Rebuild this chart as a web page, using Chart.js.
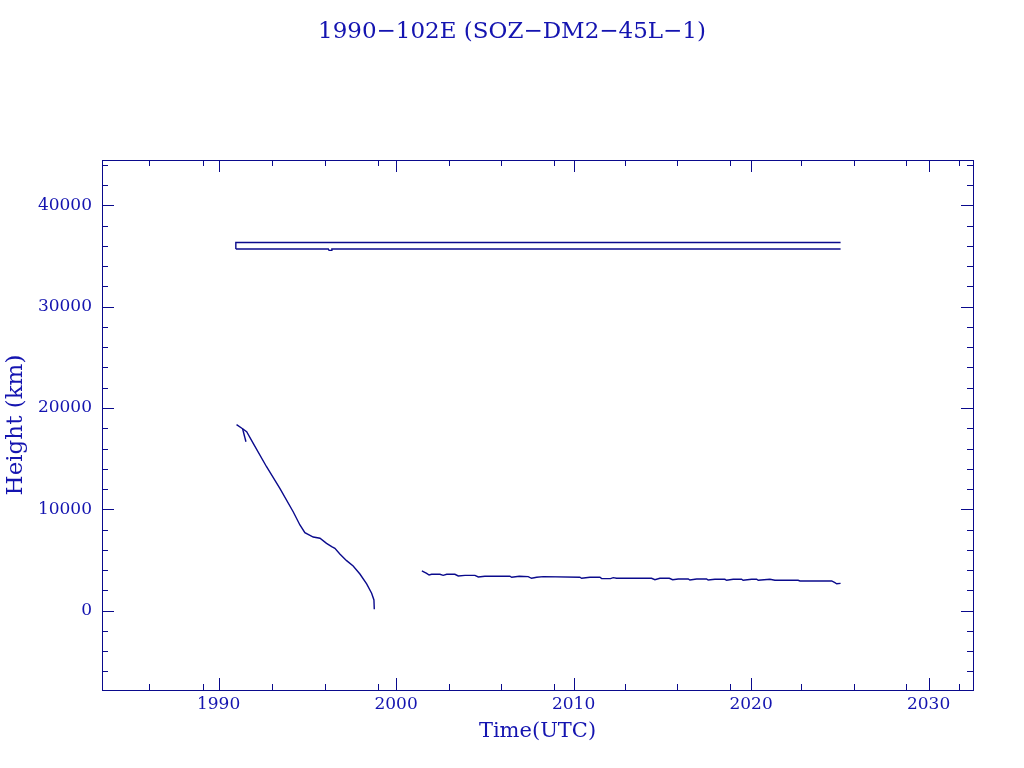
<!DOCTYPE html>
<html>
<head>
<meta charset="utf-8">
<script src="https://cdn.jsdelivr.net/npm/chart.js@4/dist/chart.umd.min.js"></script>
<style>
  html, body { margin: 0; padding: 0; background: #fff; }
  #wrap { width: 1024px; height: 768px; }
</style>
</head>
<body>
<div id="wrap"><canvas id="heightChart" width="1024" height="768"></canvas></div>
<script>
// Axis ranges and ticks
const xRange = [1983.43, 2032.5];
const yRange = [-7840, 44480];
const xMajorTicks = [1990, 2000, 2010, 2020, 2030];
const xMinorTicks = [1986.1, 1989.1, 1993.0, 1996.0, 1999.0, 2003.0, 2005.9, 2008.9,
                     2012.9, 2015.8, 2018.8, 2022.8, 2025.8, 2028.7, 2031.7];
const yMajorTicks = [0, 10000, 20000, 30000, 40000];
const yMinorTicks = [-6000, -4000, -2000, 2000, 4000, 6000, 8000, 12000, 14000, 16000, 18000,
                     22000, 24000, 26000, 28000, 32000, 34000, 36000, 38000, 42000, 44000];

// GEO pair (upper and lower line)
const geoUpperTime = [1990.97, 1990.97, 1991.05, 2025.04];
const geoUpperKm   = [35690, 36330, 36330, 36330];
const geoLowerTime = [1990.97, 1996.18, 1996.22, 1996.34, 1996.38, 2025.04];
const geoLowerKm   = [35690, 35690, 35560, 35560, 35690, 35690];

// decaying curve 1991-1999
const decayTime = [1991.01, 1991.35, 1991.58, 1991.95, 1992.70, 1993.45, 1994.20, 1994.58,
                   1994.86, 1995.33, 1995.71, 1996.08, 1996.37, 1996.55, 1996.83, 1997.21,
                   1997.58, 1997.96, 1998.34, 1998.62, 1998.75, 1998.77];
const decayKm   = [18350, 17950, 17660, 16510, 14200, 12070, 9760, 8450,
                   7690, 7260, 7140, 6640, 6310, 6150, 5590, 4930,
                   4400, 3610, 2630, 1710, 1050, 130];
const branchTime = [1991.35, 1991.54];
const branchKm   = [17950, 16670];

// low series 2001-2025
const lowTime = [2001.45, 2001.72, 2001.86, 2002.00, 2002.47, 2002.65, 2002.85, 2003.31, 2003.50,
                 2003.88, 2004.44, 2004.63, 2005.00, 2006.41, 2006.51, 2006.94, 2007.44, 2007.63,
                 2007.92, 2008.29, 2010.35, 2010.45, 2010.92, 2011.48, 2011.58, 2012.08, 2012.23,
                 2012.42, 2014.39, 2014.58, 2014.86, 2015.39, 2015.58, 2015.89, 2016.46, 2016.55,
                 2016.93, 2017.49, 2017.58, 2017.96, 2018.52, 2018.62, 2018.99, 2019.46, 2019.55,
                 2020.03, 2020.31, 2020.40, 2021.06, 2021.34, 2022.65, 2022.75, 2024.54, 2024.72,
                 2024.82, 2025.04];
const lowKm   = [3910, 3680, 3510, 3580, 3580, 3480, 3580, 3580, 3420,
                 3480, 3480, 3320, 3390, 3390, 3290, 3390, 3350, 3190,
                 3290, 3350, 3290, 3190, 3290, 3290, 3150, 3150, 3250,
                 3190, 3190, 3050, 3190, 3190, 3050, 3120, 3120, 3020,
                 3120, 3120, 3020, 3090, 3090, 2990, 3090, 3090, 2990,
                 3090, 3090, 2990, 3090, 2990, 2990, 2920, 2920, 2750,
                 2650, 2690];

const LINE_COLOR = '#0a0a8c';
const TEXT_COLOR = '#1414b0';
const FONT = 'DejaVu Serif';

function toPoints(xs, ys) {
    return xs.map((t, i) => ({ x: t, y: ys[i] }));
}

function series(xs, ys) {
    return {
        data: toPoints(xs, ys),
        showLine: true,
        borderColor: LINE_COLOR,
        borderWidth: 1.4,
        pointRadius: 0,
        tension: 0
    };
}

// box and inward ticks on all four sides
const framePlugin = {
    id: 'frame',
    afterDraw(chart) {
        const { ctx, chartArea: a, scales: { x, y } } = chart;
        ctx.save();
        ctx.strokeStyle = LINE_COLOR;
        ctx.lineWidth = 1;
        ctx.strokeRect(a.left + 0.5, a.top + 0.5, a.right - a.left, a.bottom - a.top);
        ctx.beginPath();
        const xt = (v, len) => {
            const px = Math.round(x.getPixelForValue(v)) + 0.5;
            ctx.moveTo(px, a.bottom); ctx.lineTo(px, a.bottom - len);
            ctx.moveTo(px, a.top); ctx.lineTo(px, a.top + len);
        };
        const yt = (v, len) => {
            const py = Math.round(y.getPixelForValue(v)) + 0.5;
            ctx.moveTo(a.left, py); ctx.lineTo(a.left + len, py);
            ctx.moveTo(a.right, py); ctx.lineTo(a.right - len, py);
        };
        xMajorTicks.forEach(v => xt(v, 12));
        xMinorTicks.forEach(v => xt(v, 6));
        yMajorTicks.forEach(v => yt(v, 12));
        yMinorTicks.forEach(v => yt(v, 6));
        ctx.stroke();
        ctx.restore();
    }
};

const ctx = document.getElementById('heightChart').getContext('2d');
new Chart(ctx, {
    type: 'scatter',
    data: {
        datasets: [
            series(geoUpperTime, geoUpperKm),
            series(geoLowerTime, geoLowerKm),
            series(decayTime, decayKm),
            series(branchTime, branchKm),
            series(lowTime, lowKm)
        ]
    },
    options: {
        responsive: false,
        animation: false,
        layout: { padding: 0 },
        plugins: {
            legend: { display: false },
            tooltip: { enabled: false },
            title: {
                display: true,
                text: '1990\u2212102E (SOZ\u2212DM2\u221245L\u22121)',
                color: TEXT_COLOR,
                font: { family: FONT, size: 23, weight: 'normal' },
                padding: { top: 18, bottom: 114.4 }
            }
        },
        scales: {
            x: {
                type: 'linear',
                min: xRange[0],
                max: xRange[1],
                grid: { display: false, drawTicks: false },
                border: { display: false },
                afterBuildTicks: s => { s.ticks = xMajorTicks.map(v => ({ value: v })); },
                afterFit: s => { s.height = 78; },
                ticks: {
                    color: TEXT_COLOR,
                    padding: 4,
                    font: { family: FONT, size: 17 },
                    callback: v => String(v)
                },
                title: {
                    display: true,
                    text: 'Time(UTC)',
                    color: TEXT_COLOR,
                    font: { family: FONT, size: 21 },
                    padding: { top: 0, bottom: 23.4 }
                }
            },
            y: {
                type: 'linear',
                min: yRange[0],
                max: yRange[1],
                grid: { display: false, drawTicks: false },
                border: { display: false },
                afterBuildTicks: s => { s.ticks = yMajorTicks.map(v => ({ value: v })); },
                afterFit: s => { s.width = 102; },
                ticks: {
                    color: TEXT_COLOR,
                    padding: 10,
                    font: { family: FONT, size: 17 },
                    callback: v => String(v)
                },
                title: {
                    display: true,
                    text: 'Height (km)',
                    color: TEXT_COLOR,
                    font: { family: FONT, size: 23 },
                    padding: { top: 2.2, bottom: 0 }
                }
            },
            // empty right-hand axis, only reserves the margin
            yRight: {
                type: 'linear',
                position: 'right',
                axis: 'y',
                min: yRange[0],
                max: yRange[1],
                grid: { display: false, drawTicks: false },
                border: { display: false },
                ticks: { display: false },
                afterFit: s => { s.width = 51; }
            }
        }
    },
    plugins: [framePlugin]
});
</script>
</body>
</html>
